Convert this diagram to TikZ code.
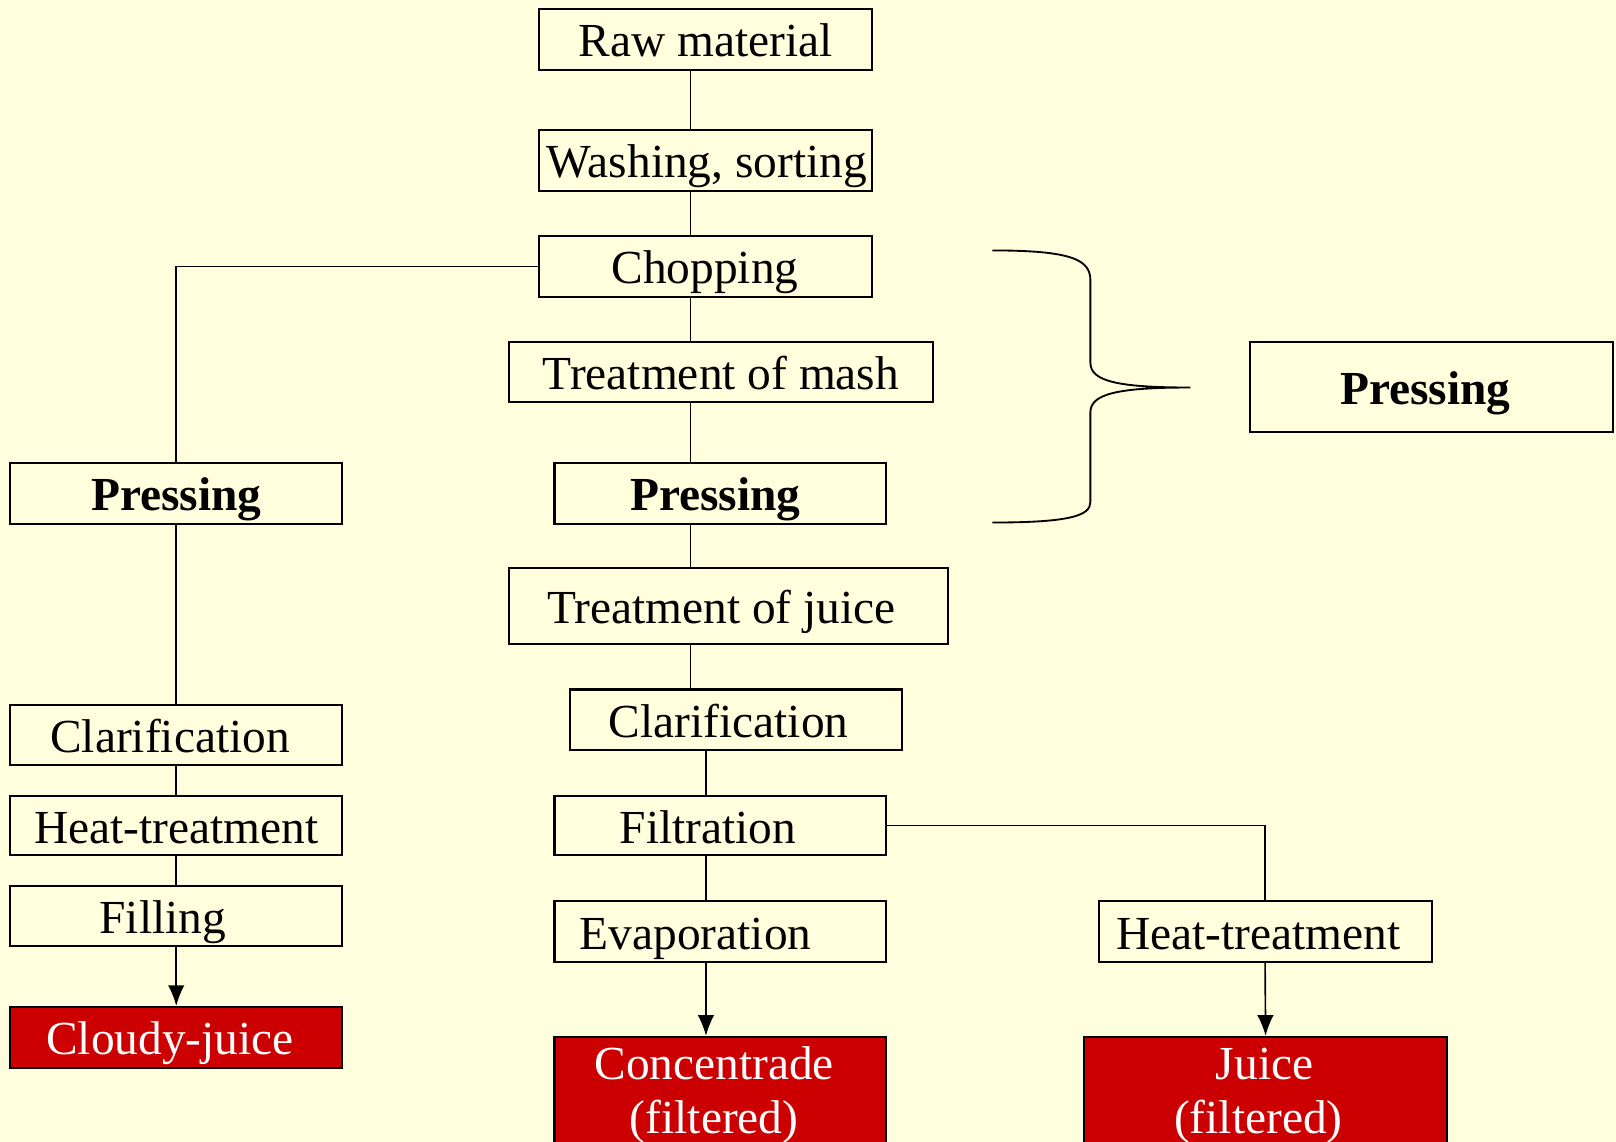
\documentclass[tikz,border=0pt]{standalone}
\usepackage{fontspec}
\setmainfont{Liberation Serif}
\usetikzlibrary{arrows.meta}
\definecolor{bgyellow}{RGB}{255,255,221}
\definecolor{boxred}{RGB}{204,0,0}
\begin{document}
\begin{tikzpicture}[x=0.5pt,y=-0.5pt,
  bx/.style 2 args={draw=black, line width=1pt, inner sep=0pt, minimum width=#1*0.5pt, minimum height=#2*0.5pt},
  redbx/.style 2 args={bx={#1}{#2}, fill=boxred},
  lbl/.style={anchor=base, inner sep=0pt, font=\fontsize{23}{28}\selectfont},
  blbl/.style={lbl, font=\fontsize{23}{28}\selectfont\bfseries},
  wlbl/.style={lbl, text=white},
  conn/.style={draw=black, line width=0.8pt},
  arr/.style={conn, -{Latex[length=10pt,width=8pt]}},
  brace/.style={draw=black, line width=0.9pt}]
\fill[bgyellow] (0,0) rectangle (1568,1108);
\useasboundingbox (0,0) rectangle (1568,1108);

% boxes
\node[bx={323}{59}] (raw) at (684.5,38.5) {};
\node[bx={323}{59}] (wash) at (684.5,155.5) {};
\node[bx={323}{59}] (chop) at (684.5,258.5) {};
\node[bx={411}{58}] (mash) at (699.5,361) {};
\node[bx={322}{59}] (pressM) at (699,478.5) {};
\node[bx={322}{59}] (pressL) at (171,478.5) {};
\node[bx={352}{87}] (pressR) at (1389,375.5) {};
\node[bx={426}{74}] (tjuice) at (707,588) {};
\node[bx={322}{59}] (clarM) at (714,698.5) {};
\node[bx={322}{58}] (filt) at (699,801) {};
\node[bx={322}{59}] (evap) at (699,903.5) {};
\node[bx={323}{59}] (heatR) at (1227.5,903.5) {};
\node[redbx={322}{110}] (conc) at (699,1061) {};
\node[redbx={352}{110}] (juice) at (1228,1061) {};
\node[bx={322}{58}] (clarL) at (171,713) {};
\node[bx={322}{58}] (heatL) at (171,801) {};
\node[bx={322}{58}] (fill) at (171,889) {};
\node[redbx={322}{59}] (cloudy) at (171,1006.5) {};

% labels
\node[lbl] (traw) at (684.5,55) {Raw material};
\node[lbl] (twash) at (686,172) {Washing, sorting};
\node[lbl] (tchop) at (684,275) {Chopping};
\node[lbl] (tmash) at (699.5,378) {Treatment of mash};
\node[blbl] (tpressM) at (694,495) {Pressing};
\node[blbl] (tpressL) at (171,495) {Pressing};
\node[blbl] (tpressR) at (1383,392) {Pressing};
\node[lbl] (ttjuice) at (700,605) {Treatment of juice};
\node[lbl] (tclarM) at (707,716) {Clarification};
\node[lbl] (tfilt) at (687,818) {Filtration};
\node[lbl] (tevap) at (675,921) {Evaporation};
\node[lbl] (theatR) at (1221,921) {Heat-treatment};
\node[wlbl] (tconc1) at (693,1047) {Concentrade};
\node[wlbl] (tconc2) at (693,1100) {(filtered)};
\node[wlbl] (tjuice1) at (1227,1047) {Juice};
\node[wlbl] (tjuice2) at (1221,1100) {(filtered)};
\node[lbl] (tclarL) at (165,730) {Clarification};
\node[lbl] (theatL) at (171,818) {Heat-treatment};
\node[lbl] (tfill) at (158,906) {Filling};
\node[wlbl] (tcloudy) at (165,1023) {Cloudy-juice};

% connector guides
\coordinate (vx) at (670,0);
\coordinate (vy) at (685,0);

% main column
\draw[conn] (raw.south -| vx) -- (wash.north -| vx);
\draw[conn] (wash.south -| vx) -- (chop.north -| vx);
\draw[conn] (chop.south -| vx) -- (mash.north -| vx);
\draw[conn] (mash.south -| vx) -- (pressM.north -| vx);
\draw[conn] (pressM.south -| vx) -- (tjuice.north -| vx);
\draw[conn] (tjuice.south -| vx) -- (clarM.north -| vx);
\draw[conn] (clarM.south -| vy) -- (filt.north -| vy);
\draw[conn] (filt.south -| vy) -- (evap.north -| vy);
\draw[arr] (evap.south -| vy) -- (conc.north -| vy);

% left column
\draw[conn] (chop.west) -- (chop.west -| pressL.north) -- (pressL.north);
\draw[conn] (pressL.south) -- (clarL.north);
\draw[conn] (clarL.south) -- (heatL.north);
\draw[conn] (heatL.south) -- (fill.north);
\draw[arr] (fill.south) -- (cloudy.north);

% right branch
\draw[conn] (filt.east) -- (filt.east -| heatR.north) -- (heatR.north);
\draw[arr] (heatR.south) -- (juice.north);

% brace
\draw[brace] (963,243) .. controls (1040,243) and (1058,252) .. (1058,272)
  -- (1058,352) .. controls (1058,370) and (1085,376) .. (1155,376)
  .. controls (1085,376) and (1058,382) .. (1058,400)
  -- (1058,487) .. controls (1058,500) and (1040,507) .. (963,507);
\end{tikzpicture}
\end{document}
